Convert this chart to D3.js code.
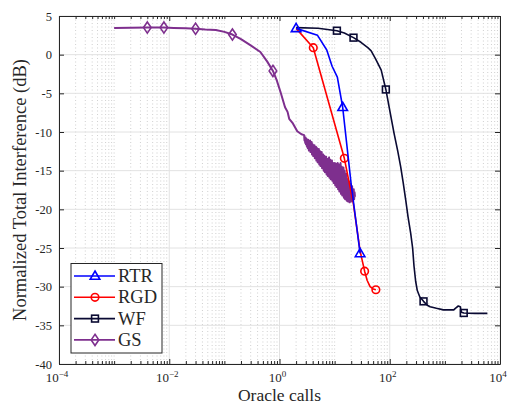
<!DOCTYPE html>
<html>
<head>
<meta charset="utf-8">
<script src="https://cdn.jsdelivr.net/npm/d3@7"></script>
<style>
  body { margin: 0; background: #fff; }
  svg { display: block; font-family: "Liberation Serif", "Times New Roman", serif; }
  .tick text { font-family: "Liberation Serif", serif; }
</style>
</head>
<body>
<div id="chart"></div>
<script>
// --- data (x = oracle calls, y = dB) ---
const seriesNames = ["RTR", "RGD", "WF", "GS"];
const seriesColors = ["#0000ff", "#ff0000", "#0a0a33", "#7e2f8e"];

const rtrPoints = [[2, 3.4], [4.9, 2.5], [7.2, 0.6], [9, -1.5], [11.2, -2.9], [14, -6.8], [20, -16.8], [29, -25.7]];
const rtrMarkers = [[2, 3.4], [14, -6.8], [29, -25.7]];

const rgdPoints = [[2, 3.4], [4.1, 0.9], [15, -13.4], [21.9, -19.3], [29, -25.4], [35, -28], [39, -29.2], [44, -30], [50, -30.3], [56, -30.4]];
const rgdMarkers = [[4.1, 0.9], [15, -13.4], [35, -28], [56, -30.4]];

const wfPoints = [[2, 3.5], [5, 3.42], [11, 3.1], [15, 2.8], [22, 2.2], [30, 1.6], [40, 0.9], [46, 0.5], [55, -0.5], [70, -2.0],
  [85, -4.5], [100, -7.2], [120, -10.2], [140, -12.5], [158, -14.5], [175, -16.5], [195, -18.8], [215, -21], [240, -23.1],
  [260, -25], [275, -27.3], [295, -29.3], [316, -30.5], [350, -31.3], [410, -31.9], [480, -32.4], [540, -32.6], [700, -32.8],
  [940, -33.0], [1450, -33.0], [1550, -32.8], [1750, -32.5], [1900, -32.6], [2000, -33.3], [2200, -33.4], [3500, -33.45], [5900, -33.45]];
const wfMarkers = [[11, 3.1], [22, 2.2], [85, -4.5], [410, -31.9], [2200, -33.4]];

const gsPoints = [[0.001, 3.45], [0.002, 3.47], [0.004, 3.5], [0.008, 3.5], [0.012, 3.45], [0.02, 3.4], [0.03, 3.35],
  [0.045, 3.25], [0.07, 3.2], [0.1, 2.95], [0.14, 2.6], [0.2, 2.0], [0.3, 1.2], [0.45, 0.35], [0.6, -0.9], [0.76, -2.1],
  [0.9, -3.4], [1.05, -4.9], [1.26, -6.8], [1.4, -7.4], [1.5, -8.3], [1.75, -8.9], [2.1, -9.9], [2.5, -10.3],
  [2.80, -10.4], [2.84, -11.1], [2.88, -10.9], [2.93, -11.4], [2.97, -10.7], [3.02, -11.6], [3.06, -11.2], [3.11, -10.9],
  [3.16, -11.9], [3.21, -11.5], [3.26, -12.1], [3.31, -11.0], [3.36, -11.7], [3.42, -12.4], [3.47, -11.4], [3.53, -12.0],
  [3.59, -11.1], [3.65, -12.6], [3.71, -11.8], [3.77, -12.3], [3.83, -11.3], [3.89, -12.9], [3.96, -12.2], [4.02, -11.6],
  [4.09, -13.1], [4.16, -12.0], [4.23, -12.7], [4.30, -11.7], [4.37, -13.4], [4.44, -12.4], [4.52, -13.0], [4.59, -11.9],
  [4.67, -13.7], [4.75, -12.6], [4.83, -12.1], [4.91, -13.9], [5.00, -12.8], [5.08, -13.5], [5.17, -12.2], [5.26, -14.2],
  [5.35, -13.1], [5.44, -12.5], [5.53, -14.4], [5.63, -13.3], [5.72, -13.9], [5.82, -12.6], [5.92, -14.7], [6.02, -13.5],
  [6.13, -14.1], [6.23, -12.9], [6.34, -15.0], [6.45, -13.8], [6.56, -13.1], [6.67, -15.2], [6.79, -14.0], [6.91, -14.6],
  [7.03, -13.2], [7.15, -15.5], [7.27, -14.2], [7.40, -13.5], [7.52, -15.7], [7.66, -14.4], [7.79, -15.0], [7.92, -13.3],
  [8.06, -15.9], [8.20, -14.6], [8.35, -13.6], [8.49, -16.1], [8.64, -14.9], [8.79, -15.4], [8.94, -13.7], [9.10, -16.3],
  [9.25, -15.0], [9.41, -14.0], [9.58, -16.6], [9.74, -15.2], [9.91, -15.9], [10.08, -14.0], [10.26, -16.9], [10.44, -15.5],
  [10.62, -14.1], [10.80, -17.1], [10.99, -15.7], [11.18, -16.3], [11.37, -14.0], [11.57, -17.4], [11.77, -16.0], [11.97, -14.2],
  [12.18, -17.7], [12.39, -16.2], [12.61, -16.8], [12.82, -14.0], [13.05, -18.0], [13.27, -16.5], [13.50, -14.5], [13.74, -18.2],
  [13.98, -16.8], [14.22, -17.3], [14.47, -14.6], [14.72, -18.5], [14.97, -17.0], [15.23, -15.0], [15.50, -18.7], [15.76, -17.2],
  [16.04, -17.8], [16.32, -15.4], [16.60, -18.9], [16.89, -17.5], [17.18, -16.1], [17.48, -19.0], [17.78, -17.6], [18.09, -18.2],
  [18.40, -16.4], [18.72, -19.1], [19.05, -17.8], [19.38, -16.7], [19.71, -19.0], [20.05, -17.9], [20.40, -18.4], [20.75, -17.0],
  [21.12, -18.9], [21.48, -17.6], [21.85, -18.6], [22.23, -17.4], [22.62, -18.7], [23.01, -17.8], [23.41, -18.4]];
const gsMarkers = [[0.004, 3.5], [0.008, 3.5], [0.03, 3.35], [0.14, 2.6], [0.76, -2.1]];

const xMajorTicks = [1e-4, 1e-2, 1, 1e2, 1e4];
const xMajorExp = [-4, -2, 0, 2, 4];
const yTicks = [5, 0, -5, -10, -15, -20, -25, -30, -35, -40];

const series = [
  {name: "RTR", points: rtrPoints, markers: rtrMarkers, shape: "triangle"},
  {name: "RGD", points: rgdPoints, markers: rgdMarkers, shape: "circle"},
  {name: "WF", points: wfPoints, markers: wfMarkers, shape: "square"},
  {name: "GS", points: gsPoints, markers: gsMarkers, shape: "diamond"}
];

// --- layout ---
const W = 508, H = 404;
const margin = {top: 16, right: 8, bottom: 40, left: 59};
const width = W - margin.left - margin.right;
const height = 364 - margin.top;

const svg = d3.select("#chart").append("svg").attr("width", W).attr("height", H);
const g = svg.append("g").attr("transform", `translate(${margin.left},${margin.top})`);

const x = d3.scaleLog().domain([1e-4, 1e4]).range([0, width]);
const y = d3.scaleLinear().domain([-40, 5]).range([height, 0]);

// minor x positions (everything that is not an even power of ten)
const xMinor = [];
for (let k = -4; k < 4; k++) {
  for (let m = 1; m <= 9; m++) {
    const v = m * Math.pow(10, k);
    if (m === 1 && k % 2 === 0) continue;
    xMinor.push(v);
  }
}

// --- grid ---
g.append("g").selectAll("line").data(xMinor).join("line")
  .attr("x1", d => x(d)).attr("x2", d => x(d)).attr("y1", 0).attr("y2", height)
  .attr("stroke", "#c4c4c4").attr("stroke-width", 0.8).attr("stroke-dasharray", "1,2.5");
g.append("g").selectAll("line").data(xMajorTicks).join("line")
  .attr("x1", d => x(d)).attr("x2", d => x(d)).attr("y1", 0).attr("y2", height)
  .attr("stroke", "#e2e2e2").attr("stroke-width", 1);
g.append("g").selectAll("line").data(yTicks).join("line")
  .attr("x1", 0).attr("x2", width).attr("y1", d => y(d)).attr("y2", d => y(d))
  .attr("stroke", "#e2e2e2").attr("stroke-width", 1);

// --- axes (ticks inward) ---
const axisColor = "#262626";
function styleAxis(sel) {
  sel.select(".domain").attr("stroke", axisColor).attr("stroke-width", 1);
  sel.selectAll(".tick line").attr("stroke", axisColor);
}
g.append("g").attr("transform", `translate(0,${height})`)
  .call(d3.axisBottom(x).tickValues(xMajorTicks).tickSizeInner(-5).tickSizeOuter(0).tickFormat(""))
  .call(styleAxis);
g.append("g").attr("transform", `translate(0,${height})`)
  .call(d3.axisBottom(x).tickValues(xMinor).tickSizeInner(-3).tickSizeOuter(0).tickFormat(""))
  .call(styleAxis).select(".domain").remove();
g.append("g")
  .call(d3.axisTop(x).tickValues(xMajorTicks).tickSizeInner(-5).tickSizeOuter(0).tickFormat(""))
  .call(styleAxis);
g.append("g")
  .call(d3.axisTop(x).tickValues(xMinor).tickSizeInner(-3).tickSizeOuter(0).tickFormat(""))
  .call(styleAxis).select(".domain").remove();
g.append("g")
  .call(d3.axisLeft(y).tickValues(yTicks).tickSizeInner(-5).tickSizeOuter(0).tickPadding(7)
    .tickFormat(d => d3.format("d")(d).replace("−", "-")))
  .call(styleAxis)
  .call(a => a.selectAll("text").attr("font-size", 12.5).attr("fill", "#262626"));
g.append("g").attr("transform", `translate(${width},0)`)
  .call(d3.axisRight(y).tickValues(yTicks).tickSizeInner(-5).tickSizeOuter(0).tickFormat(""))
  .call(styleAxis);

// x tick labels with superscripts
const xLab = g.append("g").selectAll("text").data(xMajorTicks).join("text")
  .attr("x", d => x(d) - 2).attr("y", height + 18)
  .attr("text-anchor", "middle").attr("font-size", 13).attr("fill", "#262626");
xLab.append("tspan").text("10");
xLab.append("tspan").attr("dy", -5.5).attr("font-size", 9).text((d, i) => xMajorExp[i] < 0 ? "\u2212" + Math.abs(xMajorExp[i]) : xMajorExp[i]);

// axis titles
svg.append("text").attr("x", margin.left + width / 2).attr("y", 401)
  .attr("text-anchor", "middle").attr("font-size", 17.5).attr("fill", "#262626").text("Oracle calls");
svg.append("text").attr("transform", `translate(26,${margin.top + height / 2}) rotate(-90)`)
  .attr("text-anchor", "middle").attr("font-size", 18.5).attr("fill", "#262626").text("Normalized Total Interference (dB)");

// --- marker drawing ---
function drawMarker(sel, shape, color) {
  if (shape === "triangle") {
    sel.append("path").attr("d", "M0,-5L4.8,3.3L-4.8,3.3Z");
  } else if (shape === "circle") {
    sel.append("circle").attr("r", 3.8);
  } else if (shape === "square") {
    sel.append("rect").attr("x", -3.4).attr("y", -3.4).attr("width", 6.8).attr("height", 6.8);
  } else {
    sel.append("path").attr("d", "M0,-5.6L3.8,0L0,5.6L-3.8,0Z");
  }
  sel.selectAll("*").attr("fill", "none").attr("stroke", color).attr("stroke-width", 1.6);
}

const line = d3.line().x(d => x(d[0])).y(d => y(d[1]));
const plot = g.append("g");
// draw GS first so the others sit on top
const order = [3, 2, 1, 0];
order.forEach(i => {
  const s = series[i];
  plot.append("path").datum(s.points).attr("d", line)
    .attr("fill", "none").attr("stroke", seriesColors[i]).attr("stroke-width", i === 3 ? 2 : 1.6)
    .attr("stroke-linejoin", "round");
  s.markers.forEach(p => {
    const m = plot.append("g").attr("transform", `translate(${x(p[0])},${y(p[1])})`);
    drawMarker(m, s.shape, seriesColors[i]);
  });
});

// --- legend ---
const leg = svg.append("g").attr("transform", "translate(71,263.5)");
leg.append("rect").attr("width", 91).attr("height", 89.5)
  .attr("fill", "#fff").attr("stroke", "#262626").attr("stroke-width", 1);
seriesNames.forEach((name, i) => {
  const row = leg.append("g").attr("transform", `translate(0,${12.5 + i * 21.3})`);
  row.append("line").attr("x1", 3).attr("x2", 44).attr("stroke", seriesColors[i]).attr("stroke-width", 1.6);
  const m = row.append("g").attr("transform", "translate(24,0)");
  drawMarker(m, series[i].shape, seriesColors[i]);
  row.append("text").attr("x", 47).attr("y", 6).attr("font-size", 18.5).attr("fill", "#262626").text(name);
});
</script>
</body>
</html>
